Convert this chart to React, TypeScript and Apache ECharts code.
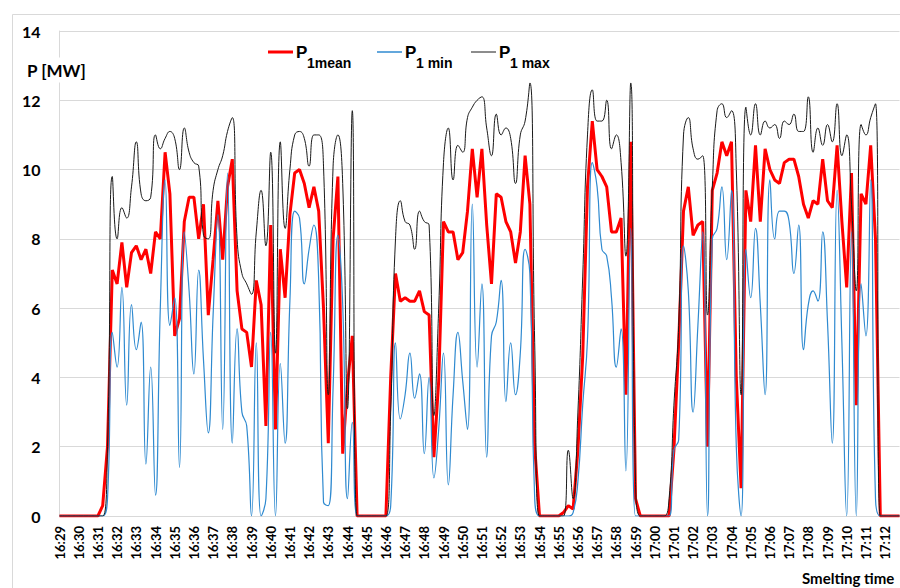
import React, { useEffect, useRef } from "react";
import * as echarts from "echarts";

// 15-second samples from 16:29:00 to 17:12:45
const START_HOUR = 16;
const START_MINUTE = 29;
const STEP_SECONDS = 15;
const SAMPLE_COUNT = 176;

const yTicks = { min: 0, max: 14, interval: 2 };

const seriesNames = ["P1mean", "P1min", "P1max"];

// P1mean [MW]
const pMean = [
  0, 0, 0, 0, 0, 0, 0, 0, 0, 0.3,
  2.0, 7.1, 6.7, 7.9, 6.6, 7.6, 7.8, 7.4, 7.7, 7.0,
  8.2, 8.0, 10.5, 9.3, 5.2, 5.7, 8.5, 9.2, 9.2, 8.0,
  9.0, 5.8, 7.4, 9.1, 7.4, 9.5, 10.3, 6.5, 5.4, 5.3,
  4.3, 6.8, 6.1, 2.6, 8.4, 2.5, 7.7, 6.3, 8.7, 9.9,
  10.0, 9.6, 8.9, 9.5, 8.8, 6.0, 2.1, 8.0, 9.8, 1.8,
  3.8, 5.2, 0, 0, 0, 0, 0, 0, 0, 4.0,
  7.0, 6.2, 6.3, 6.2, 6.2, 6.5, 5.9, 5.8, 1.7, 3.9,
  8.5, 8.2, 8.2, 7.4, 7.6, 8.8, 10.6, 9.2, 10.6, 8.4,
  6.7, 9.3, 9.2, 8.5, 8.2, 7.3, 8.2, 10.4, 9.0, 2.0,
  0, 0, 0, 0, 0, 0.1, 0.3, 0.2, 1.9, 4.6,
  9.5, 11.4, 10.0, 9.8, 9.5, 8.2, 8.2, 8.6, 3.5, 10.8,
  0.5, 0, 0, 0, 0, 0, 0, 0, 1.9, 5.0,
  8.8, 9.5, 8.1, 8.4, 8.5, 2.0, 9.4, 9.9, 10.8, 10.4,
  10.8, 4.0, 0.8, 9.4, 8.5, 10.7, 8.5, 10.6, 10.0, 9.7,
  9.6, 10.2, 10.3, 10.3, 9.8, 9.0, 8.6, 9.1, 9.0, 10.3,
  9.1, 8.9, 10.7, 8.5, 6.6, 9.9, 3.2, 9.3, 9.0, 10.7,
  8.0, 0, 0, 0, 0, 0,
];

// P1min [MW]
const pMin = [
  0, 0, 0, 0, 0, 0, 0, 0, 0, 0,
  0.5, 5.3, 4.3, 6.6, 3.2, 6.1, 4.8, 5.6, 1.5, 4.3,
  0.6, 6.0, 9.7, 5.5, 6.3, 1.4, 8.2, 6.5, 4.1, 7.1,
  4.5, 2.4, 5.8, 8.7, 2.5, 9.9, 2.1, 5.4, 3.0, 2.6,
  0, 5.0, 0, 0.5, 5.3, 0, 4.4, 2.1, 6.2, 8.8,
  8.6, 6.7, 7.7, 8.4, 6.8, 0.4, 0.3, 3.7, 8.1, 6.1,
  0.5, 2.7, 0, 0, 0, 0, 0, 0, 0, 0.3,
  5.0, 2.8, 3.5, 4.7, 3.4, 4.1, 1.8, 4.0, 1.1, 2.5,
  4.7, 0.9, 3.5, 5.3, 3.9, 2.5, 9.0, 4.3, 6.7, 1.7,
  5.2, 5.6, 6.8, 3.3, 5.0, 3.5, 4.7, 7.7, 7.0, 0.5,
  0, 0, 0, 0, 0, 0, 0, 0.1, 1.0, 3.2,
  5.1, 10.2, 9.5, 7.7, 7.5, 6.3, 4.3, 5.4, 1.3, 8.3,
  0, 0, 0, 0, 0, 0, 0, 0, 1.9, 2.2,
  7.8, 6.5, 3.0, 5.5, 8.2, 0, 8.0, 8.3, 9.5, 7.4,
  9.4, 2.0, 0, 7.7, 6.3, 8.3, 6.1, 3.5, 9.7, 8.0,
  8.8, 8.8, 8.5, 7.0, 8.4, 4.8, 6.1, 6.5, 6.2, 8.2,
  5.6, 2.1, 9.4, 5.0, 0, 8.2, 0, 6.7, 5.2, 9.7,
  0.5, 0, 0, 0, 0, 0,
];

// P1max [MW]
const pMax = [
  0, 0, 0, 0, 0, 0, 0, 0, 0, 0,
  2.0, 9.8, 8.0, 8.9, 8.6, 9.5, 10.8, 9.3, 9.1, 9.2,
  11.0, 10.6, 10.9, 11.1, 10.9, 10.0, 11.2, 10.5, 10.2, 10.1,
  8.1, 8.0, 9.4, 10.0, 10.4, 11.1, 11.5, 8.0, 7.0, 6.7,
  6.4, 8.2, 9.4, 7.8, 10.5, 4.7, 10.8, 8.3, 10.0, 11.0,
  11.1, 10.9, 10.1, 11.0, 11.0, 10.1, 3.5, 10.1, 11.0, 9.6,
  3.1, 11.7, 0, 0, 0, 0, 0, 0, 0, 3.0,
  8.0, 9.1, 8.5, 8.4, 7.7, 8.8, 8.5, 8.4, 2.9, 6.0,
  10.2, 11.2, 9.7, 10.7, 10.5, 11.5, 11.8, 12.0, 12.1, 11.2,
  10.4, 11.6, 11.0, 11.2, 10.9, 9.6, 11.0, 11.4, 12.5, 5.0,
  0, 0, 0, 0, 0, 0, 1.9, 0.5, 3.0, 6.9,
  11.0, 12.3, 11.4, 11.4, 12.0, 10.6, 11.0, 10.2, 7.5, 12.5,
  1.0, 0, 0, 0, 0, 0, 0, 0.5, 3.2, 5.5,
  11.0, 11.5, 10.6, 10.3, 10.4, 5.8, 9.5, 11.7, 11.9, 11.5,
  11.7, 10.0, 3.5, 11.8, 11.0, 11.9, 11.0, 11.4, 11.2, 11.3,
  10.9, 11.4, 11.3, 11.6, 11.1, 11.1, 12.1, 10.5, 11.2, 10.7,
  11.3, 10.8, 11.9, 10.4, 11.0, 9.0, 6.5, 11.3, 11.0, 11.5,
  11.9, 0, 0, 0, 0, 0,
];

const pad = (n: number) => (n < 10 ? "0" + n : String(n));

function buildCategories(): string[] {
  const out: string[] = [];
  const base = (START_HOUR * 60 + START_MINUTE) * 60;
  for (let i = 0; i < SAMPLE_COUNT; i++) {
    const t = base + i * STEP_SECONDS;
    const h = Math.floor(t / 3600);
    const m = Math.floor((t % 3600) / 60);
    const s = t % 60;
    out.push(`${pad(h)}:${pad(m)}:${pad(s)}`);
  }
  return out;
}

const categories = buildCategories();

export default function App() {
  const ref = useRef<HTMLDivElement>(null);

  useEffect(() => {
    if (!ref.current) return;
    const chart = echarts.init(ref.current, null, { renderer: "svg" });
    const labelFont = "Lato";
    const legendFont = "Liberation Sans";

    const legendItem = (x: number, color: string, width: number, sub: string) => [
      {
        type: "line",
        shape: { x1: x, y1: 52, x2: x + 25, y2: 52 },
        style: { stroke: color, lineWidth: width },
      },
      {
        type: "text",
        x: x + 28,
        y: 52,
        style: {
          text: "P",
          fontFamily: legendFont,
          fontWeight: "bold",
          fontSize: 17,
          fill: "#000",
          verticalAlign: "middle",
        },
      },
      {
        type: "text",
        x: x + 39,
        y: 63,
        style: {
          text: sub,
          fontFamily: legendFont,
          fontWeight: "bold",
          fontSize: 14,
          fill: "#000",
          verticalAlign: "middle",
        },
      },
    ];

    chart.setOption({
      animation: false,
      backgroundColor: "#ffffff",
      grid: { left: 59.5, right: 0.5, top: 31, bottom: 72, containLabel: false },
      xAxis: {
        type: "category",
        boundaryGap: false,
        data: categories,
        axisLine: { show: true, lineStyle: { color: "#d9d9d9", width: 1 } },
        axisTick: { show: false },
        splitLine: { show: false },
        axisLabel: {
          interval: (index: number) => index % 4 === 0 && index <= 172,
          formatter: (v: string) => v.slice(0, 5),
          rotate: 90,
          margin: 10,
          fontFamily: labelFont,
          fontWeight: "bold",
          fontSize: 13,
          color: "#000",
        },
      },
      yAxis: {
        type: "value",
        min: yTicks.min,
        max: yTicks.max,
        interval: yTicks.interval,
        axisLine: { show: true, lineStyle: { color: "#d9d9d9", width: 1 } },
        axisTick: { show: false },
        splitLine: { show: true, lineStyle: { color: "#d9d9d9", width: 1 } },
        axisLabel: {
          margin: 19,
          fontFamily: labelFont,
          fontWeight: "bold",
          fontSize: 16,
          color: "#000",
        },
      },
      series: [
        {
          name: seriesNames[0],
          type: "line",
          data: pMean,
          showSymbol: false,
          lineStyle: { color: "#ff0000", width: 3 },
          itemStyle: { color: "#ff0000" },
          z: 2,
        },
        {
          name: seriesNames[1],
          type: "line",
          data: pMin,
          smooth: 0.5,
          showSymbol: false,
          lineStyle: { color: "#2f8ad0", width: 1.2 },
          itemStyle: { color: "#2f8ad0" },
          z: 3,
        },
        {
          name: seriesNames[2],
          type: "line",
          data: pMax,
          smooth: 0.5,
          showSymbol: false,
          lineStyle: { color: "#1a1a1a", width: 1 },
          itemStyle: { color: "#1a1a1a" },
          z: 4,
        },
      ],
      graphic: [
        {
          type: "rect",
          shape: { x: 12.5, y: 14.5, width: 1000, height: 1000 },
          style: { fill: "none", stroke: "#d9d9d9", lineWidth: 1 },
          z: -1,
        },
        {
          type: "text",
          x: 25,
          y: 70,
          z: 100,
          style: {
            text: "P [MW]",
            fontFamily: labelFont,
            fontWeight: "bold",
            fontSize: 17,
            fill: "#000",
            verticalAlign: "middle",
            backgroundColor: "#ffffff",
            padding: [4, 4, 4, 2],
          },
        },
        ...legendItem(268, "#ff0000", 3, "1mean"),
        ...legendItem(377, "#2f8ad0", 1.5, "1 min"),
        ...legendItem(471, "#1a1a1a", 1, "1 max"),
        {
          type: "text",
          x: 802,
          y: 578,
          style: {
            text: "Smelting time",
            fontFamily: labelFont,
            fontWeight: "bold",
            fontSize: 15,
            fill: "#000",
            verticalAlign: "middle",
          },
        },
      ],
    });

    return () => chart.dispose();
  }, []);

  return (
    <div
      ref={ref}
      style={{ position: "absolute", left: 0, top: 0, width: 900, height: 588 }}
    />
  );
}
